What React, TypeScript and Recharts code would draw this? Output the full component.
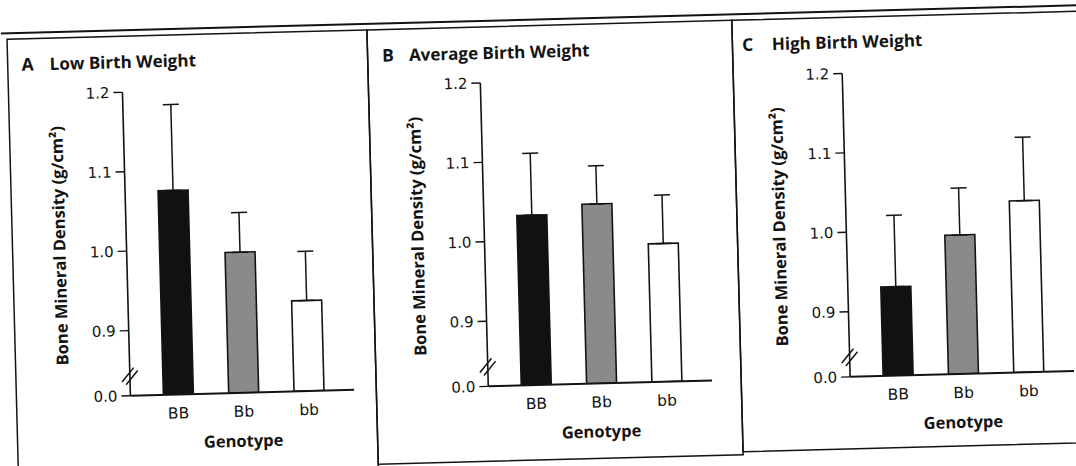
import React from 'react';
import { BarChart, Bar, XAxis, YAxis, ErrorBar, Cell } from 'recharts';

// ---------- data ----------
const genotypes = ['BB', 'Bb', 'bb'];
const lowBirthWeightBMD = [1.075, 0.995, 0.932];
const lowBirthWeightErr = [0.108, 0.05, 0.062];
const averageBirthWeightBMD = [1.032, 1.044, 0.992];
const averageBirthWeightErr = [0.078, 0.048, 0.061];
const highBirthWeightBMD = [0.93, 0.993, 1.034];
const highBirthWeightErr = [0.09, 0.059, 0.08];

// the "0.0" tick sits below an axis break; this is its position on the continuous scale
const axisBreakValue = 0.818;
const yTickValues = [axisBreakValue, 0.9, 1.0, 1.1, 1.2];
const yTickLabels = ['0.0', '0.9', '1.0', '1.1', '1.2'];
const yMax = 1.2;

const panelLetters = ['A', 'B', 'C'];
const panelTitles = ['Low Birth Weight', 'Average Birth Weight', 'High Birth Weight'];
const yAxisTitle = 'Bone Mineral Density (g/cm\u00B2)';
const xAxisTitle = 'Genotype';
const barFills = ['#111111', '#8a8a8a', '#ffffff'];

const panelValues = [lowBirthWeightBMD, averageBirthWeightBMD, highBirthWeightBMD];
const panelErrors = [lowBirthWeightErr, averageBirthWeightErr, highBirthWeightErr];

// ---------- layout ----------
const INK = '#131313';
const PLOT_TOP = 95.5;
const PLOT_BOTTOM = 399;
const PLOT_W = 224;
const YAXIS_W = 100;
const CHART_H = 470;
const TICK_SIZE = 9;
const TICK_MARGIN = 4;
const BORDER_TOP = 39.5;

const panelLayout = [
  { axisX: 119.5, left: 6, right: 366, bottom: 520, letterX: 20, titleX: 48, titleY: 71.3 },
  { axisX: 477.5, left: 366, right: 731, bottom: 474, letterX: 380.4, titleX: 407.4, titleY: 71.8 },
  { axisX: 840, left: 731, right: 1130, bottom: 471, letterX: 740.7, titleX: 770.4, titleY: 70.3 },
];

const tickFont = '"DejaVu Sans", sans-serif';
const titleFont = '"Open Sans", "Noto Sans", sans-serif';

function buildData(values: number[], errs: number[]) {
  return genotypes.map((g, i) => ({ genotype: g, bmd: values[i], err: [0, errs[i]] }));
}

function YTick(props: any) {
  const { x, y, payload } = props;
  const idx = yTickValues.indexOf(payload.value);
  const label = idx >= 0 ? yTickLabels[idx] : '';
  const ax = x + TICK_SIZE + TICK_MARGIN;
  const isBreak = payload.value === axisBreakValue;
  const by = y - 20;
  return (
    <g>
      <text x={x} y={y} dy="0.36em" textAnchor="end" fontFamily={tickFont} fontSize={15} fill={INK}>
        {label}
      </text>
      {isBreak && (
        <g stroke={INK} strokeWidth={1.5}>
          <line x1={ax - 8} y1={by + 6} x2={ax + 4} y2={by - 8} />
          <line x1={ax - 4} y1={by + 9} x2={ax + 8} y2={by - 5} />
        </g>
      )}
    </g>
  );
}

function XTick(props: any) {
  const { x, y, payload } = props;
  return (
    <text x={x} y={y + 24} textAnchor="middle" fontFamily={tickFont} fontSize={15.5} fill={INK}>
      {payload.value}
    </text>
  );
}

function YLabel(props: any) {
  const vb = props.viewBox || { x: 0, y: PLOT_TOP, width: YAXIS_W, height: PLOT_BOTTOM - PLOT_TOP };
  const cx = vb.x + vb.width - 61;
  const cy = vb.y + vb.height / 2;
  return (
    <text
      x={cx}
      y={cy}
      transform={`rotate(-90 ${cx} ${cy})`}
      textAnchor="middle"
      fontFamily={titleFont}
      fontWeight={700}
      fontSize={16.5}
      fill={INK}
    >
      {yAxisTitle}
    </text>
  );
}

function XLabel(props: any) {
  const vb = props.viewBox || { x: YAXIS_W, y: PLOT_BOTTOM, width: PLOT_W, height: CHART_H - PLOT_BOTTOM };
  return (
    <text
      x={vb.x + vb.width / 2}
      y={vb.y + 54}
      textAnchor="middle"
      fontFamily={titleFont}
      fontWeight={700}
      fontSize={16.5}
      fill={INK}
    >
      {xAxisTitle}
    </text>
  );
}

function Panel({ index }: { index: number }) {
  const data = buildData(panelValues[index], panelErrors[index]);
  const lay = panelLayout[index];
  return (
    <div style={{ position: 'absolute', left: lay.axisX - YAXIS_W, top: 0 }}>
      <BarChart
        width={YAXIS_W + PLOT_W}
        height={CHART_H}
        data={data}
        margin={{ top: PLOT_TOP, right: 0, bottom: 0, left: 0 }}
        barSize={30}
      >
        <XAxis
          dataKey="genotype"
          type="category"
          height={CHART_H - PLOT_BOTTOM}
          padding={{ left: 15, right: 13 }}
          tickSize={0}
          tickMargin={0}
          tickLine={false}
          axisLine={{ stroke: INK, strokeWidth: 2 }}
          tick={XTick}
          interval={0}
          label={{ content: XLabel }}
        />
        <YAxis
          type="number"
          domain={[axisBreakValue, yMax]}
          ticks={yTickValues}
          allowDataOverflow
          width={YAXIS_W}
          tickSize={TICK_SIZE}
          tickMargin={TICK_MARGIN}
          axisLine={{ stroke: INK, strokeWidth: 1.6 }}
          tickLine={{ stroke: INK, strokeWidth: 1.4 }}
          tick={YTick}
          interval={0}
          label={{ content: YLabel }}
        />
        <Bar dataKey="bmd" isAnimationActive={false} stroke={INK} strokeWidth={1.6}>
          {data.map((d, i) => (
            <Cell key={d.genotype} fill={barFills[i]} />
          ))}
          <ErrorBar dataKey="err" width={8} stroke={INK} strokeWidth={1.5} direction="y" isAnimationActive={false} />
        </Bar>
      </BarChart>
    </div>
  );
}

export default function App() {
  return (
    <div
      style={{
        position: 'absolute',
        left: 0,
        top: 0,
        width: 1076,
        height: 466,
        overflow: 'hidden',
        background: '#ffffff',
      }}
    >
      <div
        style={{
          position: 'absolute',
          left: 0,
          top: 0,
          width: 1130,
          height: 530,
          transform: 'rotate(-1.5deg)',
          transformOrigin: '0 0',
        }}
      >
        <svg width={1130} height={530} style={{ position: 'absolute', left: 0, top: 0 }}>
          <line x1={-20} y1={33.5} x2={1130} y2={33.5} stroke={INK} strokeWidth={2} />
          {panelLayout.map((p, i) => (
            <g key={i}>
              <rect
                x={p.left}
                y={BORDER_TOP}
                width={p.right - p.left}
                height={p.bottom - BORDER_TOP}
                fill="none"
                stroke={INK}
                strokeWidth={1.5}
              />
              <text x={p.letterX} y={p.titleY} fontFamily={titleFont} fontWeight={700} fontSize={17.5} fill={INK}>
                {panelLetters[i]}
              </text>
              <text x={p.titleX} y={p.titleY} fontFamily={titleFont} fontWeight={700} fontSize={17} fill={INK}>
                {panelTitles[i]}
              </text>
            </g>
          ))}
        </svg>
        {panelLayout.map((p, i) => (
          <Panel key={i} index={i} />
        ))}
      </div>
    </div>
  );
}
